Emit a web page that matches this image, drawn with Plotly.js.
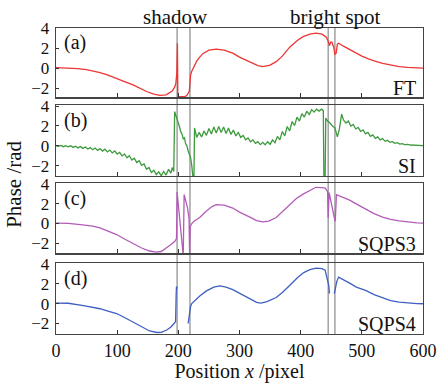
<!DOCTYPE html>
<html>
<head>
<meta charset="utf-8">
<script src="https://cdn.plot.ly/plotly-3.0.1.min.js"></script>
<style>html,body{margin:0;padding:0;background:#fff;}#chart{width:443px;height:383px;}</style>
</head>
<body>
<div id="chart"></div>
<script>
// ---- data ----
const panelLabels = ['(a)', '(b)', '(c)', '(d)'];
const methodNames = ['FT', 'SI', 'SQPS3', 'SQPS4'];
const xTicks = [0, 100, 200, 300, 400, 500, 600];
const yTicks = [-2, 0, 2, 4];
const markerPositions = [198, 219, 445, 456];
const regionNames = ['shadow', 'bright spot'];
const regionCenters = [196, 457];

const ftX = [0, 20, 35, 50, 60, 72, 85, 99, 112, 126, 137, 148, 160, 170, 180, 186, 190, 194, 196, 197.5, 198.5, 199.2,
  205, 210, 214, 216, 218, 219, 220, 222, 226, 230, 235, 240, 250, 262, 275, 289, 300, 317, 330, 338, 350, 360, 370,
  382, 395, 404, 415, 425, 435, 442, 445, 447, 449, 451, 454, 456, 458, 460, 462, 470, 480, 490, 500, 510, 520, 534,
  547, 561, 575, 590, 600];
const ftY = [0.05, 0.03, -0.05, -0.15, -0.25, -0.44, -0.7, -1.0, -1.35, -1.67, -2.0, -2.34, -2.6, -2.72, -2.68, -2.5,
  -2.3, -1.9, -1.5, -0.5, 2.5, -2.85, -2.85, -2.85, -2.75, -2.5, -2.3, -1.5, -0.7, -0.3, 0.3, 0.7, 1.1, 1.45, 1.8, 1.9,
  1.8, 1.5, 1.1, 0.6, 0.25, 0.16, 0.3, 0.65, 1.2, 2.1, 2.8, 3.15, 3.4, 3.5, 3.4, 3.1, 2.7, 2.25, 2.6, 2.6, 2.1, 1.4,
  1.5, 2.4, 2.5, 2.2, 1.85, 1.5, 1.2, 0.95, 0.72, 0.48, 0.3, 0.16, 0.08, 0.02, 0.0];

const siX = [0, 4, 8, 12, 16, 20, 24, 28, 32, 36, 40, 44, 48, 52, 56, 60, 64, 68, 72, 76, 80, 84, 88, 92, 96, 100,
  104, 108, 112, 116, 120, 124, 128, 132, 136, 140, 144, 148, 152, 156, 160, 164, 168, 172, 176, 180, 184, 188, 190,
  192.5, 194, 196, 198, 200, 202, 204, 206, 208, 210, 212, 214, 216, 218, 220, 222, 224, 225.5, 226.5, 230, 234, 238,
  242, 246, 250, 254, 258, 262, 266, 270, 274, 278, 282, 286, 290, 294, 298, 302, 306, 310, 314, 318, 322, 326, 330,
  334, 338, 342, 346, 350, 354, 358, 362, 366, 370, 374, 378, 382, 386, 390, 394, 398, 402, 406, 410, 414, 418, 422,
  426, 430, 434, 437, 438, 440, 441, 444, 448, 452, 456, 460, 463, 467, 470, 474, 478, 482, 486, 490, 494, 498, 502,
  506, 510, 514, 518, 522, 526, 530, 534, 538, 542, 546, 550, 554, 558, 562, 566, 570, 575, 580, 585, 590, 595, 600];
const siY = [0.0, -0.06, 0.03, -0.09, 0.02, -0.11, 0.0, -0.16, -0.04, -0.21, -0.07, -0.26, -0.12, -0.33, -0.18, -0.4,
  -0.23, -0.46, -0.28, -0.53, -0.34, -0.62, -0.43, -0.72, -0.52, -0.83, -0.66, -1.02, -0.83, -1.21, -1.0, -1.43, -1.25,
  -1.7, -1.51, -1.97, -1.83, -2.37, -2.19, -2.69, -2.47, -2.91, -2.63, -3.02, -2.59, -2.95, -2.38, -2.76, -2.2, -2.6,
  3.45, 3.1, 2.6, 2.4, 1.9, 1.4, 1.2, 0.7, 0.8, 0.2, 0.0, -0.5, -0.8, -1.2, -2.0, -3.3, -3.3, 1.8, 0.85, 1.35, 0.9,
  1.5, 1.05, 1.75, 1.2, 1.9, 1.3, 1.95, 1.35, 1.9, 1.25, 1.8, 1.15, 1.6, 1.0, 1.35, 0.85, 1.05, 0.6, 0.8, 0.4, 0.6,
  0.25, 0.42, 0.12, 0.35, 0.1, 0.4, 0.15, 0.6, 0.3, 0.95, 0.6, 1.45, 1.0, 1.95, 1.5, 2.45, 2.05, 2.9, 2.5, 3.25, 2.9,
  3.5, 3.15, 3.65, 3.4, 3.7, 3.5, 3.7, 3.55, -3.5, -3.5, 2.8, 2.5, 2.3, 2.0, 1.8, 0.9, 1.6, 3.2, 2.6, 2.3, 2.5, 2.0,
  2.15, 1.7, 1.85, 1.45, 1.6, 1.2, 1.35, 0.95, 1.1, 0.75, 0.9, 0.6, 0.72, 0.45, 0.55, 0.35, 0.42, 0.25, 0.32, 0.18,
  0.22, 0.12, 0.15, 0.08, 0.08, 0.04, 0.04, 0.02];

const sq3X = [0, 20, 40, 60, 72, 85, 99, 112, 126, 140, 153, 164, 172, 181, 188, 194, 197, 198, 208, 209.5, 212, 215,
  217.5, 218.5, 219.5, 222, 226, 235, 245, 255, 262, 275, 289, 300, 317, 328, 338, 348, 360, 370, 382, 393, 404, 415,
  425, 435, 440, 444, 445, 446.5, 449, 452, 455, 456.5, 458.5, 465, 480, 493, 507, 520, 534, 547, 561, 575, 590, 600];
const sq3Y = [0.05, 0.02, -0.1, -0.25, -0.43, -0.75, -1.1, -1.55, -2.0, -2.45, -2.75, -2.87, -2.8, -2.45, -2.1, -1.8,
  -1.5, 3.15, -3.2, 2.9, 2.4, 1.6, 0.5, -3.2, -0.3, 0.0, 0.25, 0.6, 1.2, 1.7, 1.9, 1.85, 1.55, 1.15, 0.65, 0.3, 0.17,
  0.25, 0.6, 1.15, 1.9, 2.5, 2.95, 3.35, 3.63, 3.6, 3.55, 3.2, 0.55, 3.1, 2.5, 1.5, 0.6, 0.2, 2.9, 2.75, 2.35, 1.9,
  1.4, 1.0, 0.65, 0.42, 0.27, 0.15, 0.07, 0.05];

const sq4X = [0, 20, 45, 60, 72, 85, 99, 112, 126, 140, 153, 165, 172, 181, 188, 193, 195.5, 196.5, 197, 198, 207,
  216, 218, 220, 222, 227, 235, 246, 258, 268, 278, 289, 300, 317, 328, 335, 345, 360, 370, 382, 395, 405, 415, 425,
  435, 440, 442, 444, 446, 447, 451, 455, 457, 459, 462, 470, 480, 491, 507, 520, 534, 547, 561, 575, 590, 600];
const sq4Y = [0.05, 0.03, -0.2, -0.35, -0.52, -0.75, -1.0, -1.4, -1.85, -2.35, -2.75, -2.9, -2.88, -2.65, -2.35, -2.0,
  -1.8, 1.0, 1.7, 1.5, null, -2.0, -1.0, -0.3, 0.0, 0.3, 0.75, 1.27, 1.65, 1.76, 1.65, 1.4, 1.05, 0.5, 0.12, 0.05,
  0.2, 0.6, 1.1, 1.8, 2.6, 3.1, 3.4, 3.55, 3.5, 3.35, 2.9, 2.4, 1.8, 1.0, null, 1.0, 1.6, 2.2, 2.65, 2.4, 2.05, 1.65,
  1.3, 0.9, 0.55, 0.3, 0.15, 0.05, 0.0, -0.02];

// ---- chart ----
const seriesX = [ftX, siX, sq3X, sq4X];
const seriesY = [ftY, siY, sq3Y, sq4Y];
const colors = ['#ee3535', '#3d9a3d', '#b25cb8', '#3e5fc3'];
const domains = [[0.7735, 1.0], [0.5163, 0.7484], [0.2637, 0.4925], [0.0, 0.231]];
const yRanges = [[-2.92, 4.02], [-3.05, 4.12], [-2.98, 4.03], [-3.05, 4.03]];
const serif = 'Liberation Serif, Times New Roman, DejaVu Serif, serif';

const traces = [];
const layout = {
  width: 443, height: 383,
  margin: {l: 56, r: 20, t: 28, b: 49},
  paper_bgcolor: '#fff', plot_bgcolor: '#fff',
  showlegend: false,
  font: {family: serif, size: 17, color: '#111'},
  annotations: [], shapes: []
};

for (let i = 0; i < 4; i++) {
  const sx = i === 0 ? '' : String(i + 1);
  traces.push({
    x: seriesX[i], y: seriesY[i], type: 'scatter', mode: 'lines',
    xaxis: 'x' + sx, yaxis: 'y' + sx, connectgaps: false,
    line: {color: colors[i], width: 1.3}, hoverinfo: 'skip'
  });
  const xa = {
    range: [0, 600], anchor: 'y' + sx, domain: [0, 1],
    tickvals: xTicks, ticktext: xTicks.map(String),
    showticklabels: i === 3, ticks: 'inside', ticklen: 4, tickwidth: 1, tickcolor: '#333',
    showline: true, linecolor: '#444', linewidth: 1.3, mirror: true,
    showgrid: false, zeroline: false,
    tickfont: {family: serif, size: 18, color: '#111'},
    ticklabelstandoff: 0
  };
  if (i > 0) xa.matches = 'x';
  layout['xaxis' + sx] = xa;
  layout['yaxis' + sx] = {
    range: yRanges[i], domain: domains[i], anchor: 'x' + sx,
    tickvals: yTicks, ticks: 'inside', ticklen: 3, tickwidth: 1, tickcolor: '#333',
    showline: true, linecolor: '#444', linewidth: 1.3, mirror: true,
    showgrid: false, zeroline: false,
    tickfont: {family: serif, size: 17, color: '#111'},
    ticklabelstandoff: 2
  };
  layout.annotations.push({
    xref: 'x' + sx, yref: 'y' + sx, x: 9, y: 2.55, xanchor: 'left', yanchor: 'middle',
    text: panelLabels[i], showarrow: false, font: {family: serif, size: 20, color: '#111'}
  });
  layout.annotations.push({
    xref: 'x' + sx, yref: 'y' + sx, x: 591, y: -2.0, xanchor: 'right', yanchor: 'middle',
    text: methodNames[i], showarrow: false, font: {family: serif, size: 20, color: '#111'}
  });
}
layout.xaxis4.title = {text: 'Position <i>x</i> /pixel', font: {family: serif, size: 20, color: '#111'}, standoff: 0};

for (let k = 0; k < regionNames.length; k++) {
  layout.annotations.push({
    xref: 'x', yref: 'paper', x: regionCenters[k], y: 1.035, xanchor: 'center', yanchor: 'middle',
    text: regionNames[k], showarrow: false, font: {family: serif, size: 21, color: '#111'}
  });
}
layout.annotations.push({
  xref: 'paper', yref: 'paper', x: -0.115, y: 0.49, xanchor: 'center', yanchor: 'middle',
  text: 'Phase /rad', textangle: -90, showarrow: false, font: {family: serif, size: 21, color: '#111'}
});

markerPositions.forEach(p => {
  layout.shapes.push({
    type: 'line', xref: 'x', yref: 'paper', x0: p, x1: p, y0: 0, y1: 1,
    line: {color: 'rgba(120,120,120,0.75)', width: 1.4}, layer: 'below'
  });
});

Plotly.newPlot('chart', traces, layout, {staticPlot: true, displayModeBar: false});
</script>
</body>
</html>
